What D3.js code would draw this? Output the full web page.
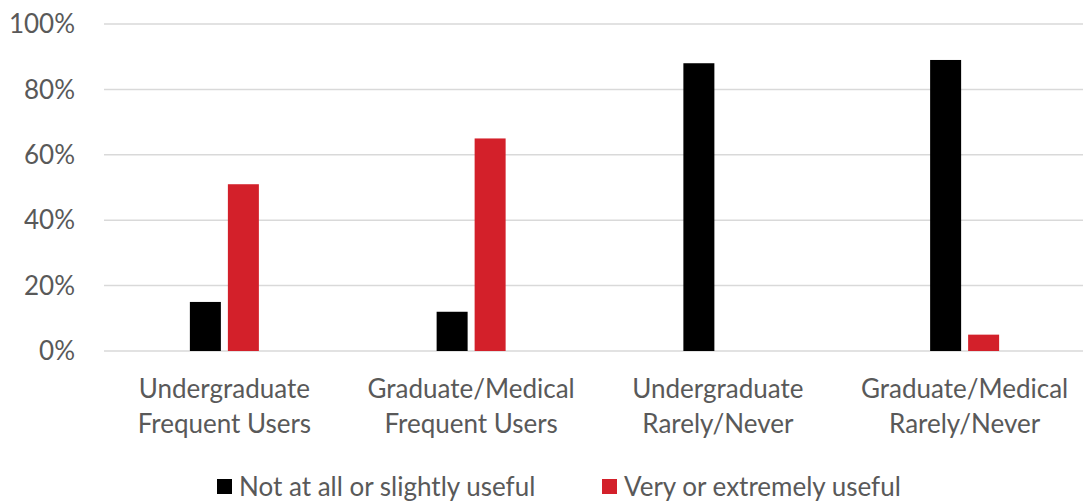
<!DOCTYPE html>
<html>
<head>
<meta charset="utf-8">
<script src="https://cdn.jsdelivr.net/npm/d3@7"></script>
<style>
  body { margin: 0; background: #fff; }
  text { font-family: "Source Sans Pro", Lato, "Open Sans", sans-serif; fill: #595959; }
</style>
</head>
<body>
<div id="container"></div>
<script>
// data
const categories = [
  ['Undergraduate', 'Frequent Users'],
  ['Graduate/Medical', 'Frequent Users'],
  ['Undergraduate', 'Rarely/Never'],
  ['Graduate/Medical', 'Rarely/Never']
];
const seriesNames = ['Not at all or slightly useful', 'Very or extremely useful'];
const notUseful = [15, 12, 88, 89];
const veryUseful = [51, 65, 0, 5];
const yTicks = [0, 20, 40, 60, 80, 100];
const colors = ['#000000', '#d3202a'];

const width = 1083;
const height = 502;

const svg = d3.select('#container').append('svg')
  .attr('width', width)
  .attr('height', height);

const catKeys = categories.map((c) => c.join(' '));
const x = d3.scaleBand().domain(catKeys).range([101, 1088]);
const y = d3.scaleLinear().domain([0, 100]).range([351, 24]);

// gridlines + y labels
svg.append('g')
  .selectAll('line')
  .data(yTicks)
  .join('line')
  .attr('x1', 104)
  .attr('x2', width)
  .attr('y1', (d) => y(d))
  .attr('y2', (d) => y(d))
  .attr('stroke', '#d9d9d9')
  .attr('stroke-width', 1.5);

svg.append('g')
  .selectAll('text')
  .data(yTicks)
  .join('text')
  .attr('x', 75)
  .attr('y', (d) => y(d))
  .attr('dy', '0.35em')
  .attr('text-anchor', 'end')
  .style('font-size', '26px')
  .text((d) => d + '%');

// bars
const barW = 31;
const gap = 7;
const series = [notUseful, veryUseful];
series.forEach((vals, s) => {
  svg.append('g')
    .selectAll('rect')
    .data(vals)
    .join('rect')
    .attr('x', (d, i) => x(catKeys[i]) + x.bandwidth() / 2 - barW - gap / 2 + s * (barW + gap))
    .attr('y', (d) => y(d))
    .attr('width', barW)
    .attr('height', (d) => y(0) - y(d))
    .attr('fill', colors[s]);
});

// category labels
const labels = svg.append('g')
  .selectAll('text')
  .data(categories)
  .join('text')
  .attr('text-anchor', 'middle')
  .style('font-size', '26px');
labels.each(function (d, i) {
  const cx = x(catKeys[i]) + x.bandwidth() / 2;
  d3.select(this).selectAll('tspan')
    .data(d)
    .join('tspan')
    .attr('x', cx)
    .attr('y', (t, j) => 398 + j * 35)
    .text((t) => t);
});

// legend
const legendX = [217, 602];
seriesNames.forEach((name, s) => {
  svg.append('rect')
    .attr('x', legendX[s])
    .attr('y', 479)
    .attr('width', 15)
    .attr('height', 15)
    .attr('fill', colors[s]);
  svg.append('text')
    .attr('x', legendX[s] + 22)
    .attr('y', 487)
    .attr('dy', '0.35em')
    .style('font-size', '26px')
    .text(name);
});
</script>
</body>
</html>
